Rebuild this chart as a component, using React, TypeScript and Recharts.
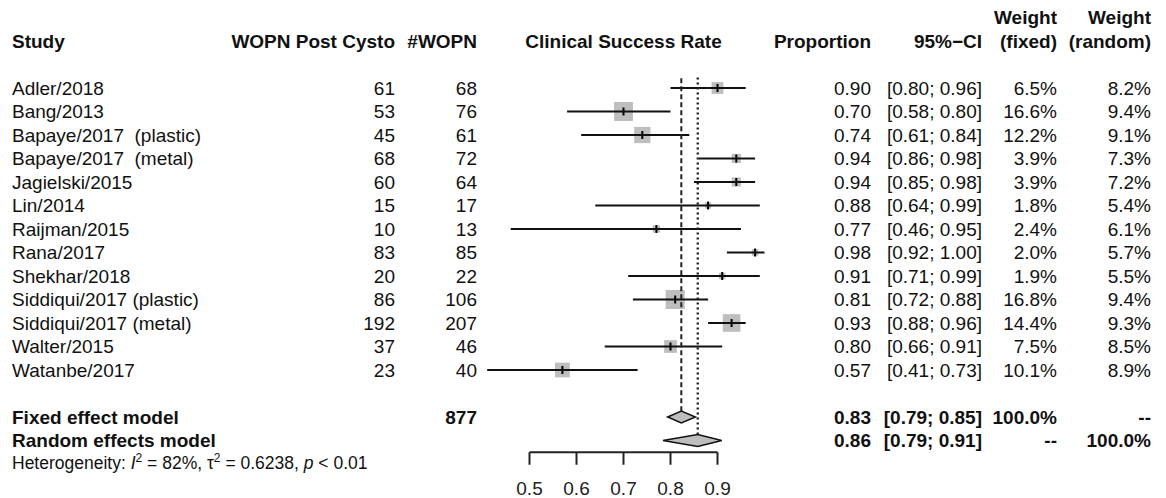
import React from 'react';
import { ScatterChart, Scatter, XAxis, YAxis, ReferenceLine, ReferenceArea } from 'recharts';

// study rows
const studies = [
  'Adler/2018', 'Bang/2013', 'Bapaye/2017  (plastic)', 'Bapaye/2017  (metal)', 'Jagielski/2015',
  'Lin/2014', 'Raijman/2015', 'Rana/2017', 'Shekhar/2018', 'Siddiqui/2017 (plastic)',
  'Siddiqui/2017 (metal)', 'Walter/2015', 'Watanbe/2017',
];
const events = [61, 53, 45, 68, 60, 15, 10, 83, 20, 86, 192, 37, 23];
const totals = [68, 76, 61, 72, 64, 17, 13, 85, 22, 106, 207, 46, 40];
const proportion = [0.90, 0.70, 0.74, 0.94, 0.94, 0.88, 0.77, 0.98, 0.91, 0.81, 0.93, 0.80, 0.57];
const ciLow = [0.80, 0.58, 0.61, 0.86, 0.85, 0.64, 0.46, 0.92, 0.71, 0.72, 0.88, 0.66, 0.41];
const ciHigh = [0.96, 0.80, 0.84, 0.98, 0.98, 0.99, 0.95, 1.00, 0.99, 0.88, 0.96, 0.91, 0.73];
const weightFixed = [6.5, 16.6, 12.2, 3.9, 3.9, 1.8, 2.4, 2.0, 1.9, 16.8, 14.4, 7.5, 10.1];
const weightRandom = [8.2, 9.4, 9.1, 7.3, 7.2, 5.4, 6.1, 5.7, 5.5, 9.4, 9.3, 8.5, 8.9];

// pooled rows
const summaryLabels = ['Fixed effect model', 'Random effects model'];
const summaryEst = [0.823, 0.858];
const summaryLow = [0.794, 0.784];
const summaryHigh = [0.853, 0.909];
const summaryProp = ['0.83', '0.86'];
const summaryCi = ['[0.79; 0.85]', '[0.79; 0.91]'];
const summaryWFixed = ['100.0%', '--'];
const summaryWRandom = ['--', '100.0%'];
const totalPatients = 877;

const xTicks = [0.5, 0.6, 0.7, 0.8, 0.9];

const FONT = "'Liberation Sans', Arial, Helvetica, sans-serif";
const COL = { study: 12, events: 395, total: 477, prop: 871, ci: 982, wFixed: 1057, wRandom: 1151 };
const FIXED_ROW = studies.length + 1;
const RANDOM_ROW = studies.length + 2;

const studyPoints = studies.map((name, i) => ({ x: proportion[i], y: i, w: weightFixed[i] }));

const tableRows = [
  { x: 0.7, y: -3, kind: 'weightTop' },
  { x: 0.7, y: -2, kind: 'header' },
  ...studies.map((name, i) => ({
    x: 0.7, y: i, kind: 'study',
    cells: [name, String(events[i]), String(totals[i]), proportion[i].toFixed(2),
      `[${ciLow[i].toFixed(2)}; ${ciHigh[i].toFixed(2)}]`, `${weightFixed[i].toFixed(1)}%`, `${weightRandom[i].toFixed(1)}%`],
  })),
  ...summaryLabels.map((name, i) => ({
    x: 0.7, y: FIXED_ROW + i, kind: i === 0 ? 'fixed' : 'random',
    cells: [name, i === 0 ? String(totalPatients) : '', summaryProp[i], summaryCi[i], summaryWFixed[i], summaryWRandom[i]],
  })),
];

const TableRow = (props: any) => {
  const { cx, cy, payload } = props;
  const base = cy + 6.6;
  const t = (x: number, s: string, anchor: string, bold = false) => (
    <text x={x} y={base} textAnchor={anchor} fontFamily={FONT} fontSize={19}
      fontWeight={bold ? 'bold' : 'normal'} fill="#111" style={{ whiteSpace: 'pre' }}>{s}</text>
  );
  if (payload.kind === 'weightTop') {
    return <g>{t(COL.wFixed, 'Weight', 'end', true)}{t(COL.wRandom, 'Weight', 'end', true)}</g>;
  }
  if (payload.kind === 'header') {
    return (
      <g>
        {t(COL.study, 'Study', 'start', true)}
        {t(COL.events, 'WOPN Post Cysto', 'end', true)}
        {t(COL.total, '#WOPN', 'end', true)}
        {t(cx, 'Clinical Success Rate', 'middle', true)}
        {t(COL.prop, 'Proportion', 'end', true)}
        {t(COL.ci, '95%\u2212CI', 'end', true)}
        {t(COL.wFixed, '(fixed)', 'end', true)}
        {t(COL.wRandom, '(random)', 'end', true)}
      </g>
    );
  }
  const c = payload.cells;
  if (payload.kind === 'study') {
    return (
      <g>
        {t(COL.study, c[0], 'start')}
        {t(COL.events, c[1], 'end')}
        {t(COL.total, c[2], 'end')}
        {t(COL.prop, c[3], 'end')}
        {t(COL.ci, c[4], 'end')}
        {t(COL.wFixed, c[5], 'end')}
        {t(COL.wRandom, c[6], 'end')}
      </g>
    );
  }
  return (
    <g>
      {t(COL.study, c[0], 'start', true)}
      {t(COL.total, c[1], 'end', true)}
      {t(COL.prop, c[2], 'end', true)}
      {t(COL.ci, c[3], 'end', true)}
      {t(COL.wFixed, c[4], 'end', true)}
      {t(COL.wRandom, c[5], 'end', true)}
      {payload.kind === 'random' && (
        <text x={COL.study} y={base + 21.5} fontFamily={FONT} fontSize={17.5} fill="#111">
          Heterogeneity: <tspan fontStyle="italic">I</tspan>
          <tspan dy={-7} fontSize={12}>2</tspan>
          <tspan dy={7}> = 82%, τ</tspan>
          <tspan dy={-7} fontSize={12}>2</tspan>
          <tspan dy={7}> = 0.6238, </tspan>
          <tspan fontStyle="italic">p</tspan> &lt; 0.01
        </text>
      )}
    </g>
  );
};

const StudyMark = (props: any) => {
  const { cx, cy, payload } = props;
  const s = 4.65 * Math.sqrt(payload.w);
  return (
    <g>
      <rect x={cx - s / 2} y={cy - s / 2} width={s} height={s} fill="#BEBEBE" />
      <line x1={cx} x2={cx} y1={cy - 4} y2={cy + 4} stroke="#000" strokeWidth={2} />
    </g>
  );
};

const diamond = (est: number, low: number, high: number) => (props: any) => {
  const { x, y, width, height } = props;
  const mx = x + (width * (est - low)) / (high - low);
  const my = y + height / 2;
  return (
    <polygon
      points={`${x},${my} ${mx},${y} ${x + width},${my} ${mx},${y + height}`}
      fill="#BEBEBE" stroke="#111" strokeWidth={1.5}
    />
  );
};

export default function App() {
  return (
    <div style={{ position: 'absolute', left: 0, top: 0, background: '#fff' }}>
      <ScatterChart width={1166} height={498} margin={{ top: 5.75, right: 401.5, bottom: 0, left: 482.5 }}>
        <XAxis
          type="number" dataKey="x" domain={[0.4, 1.0]} ticks={xTicks} interval={0}
          axisLine={false} height={45.75} tickSize={12.5} tickMargin={17}
          tickLine={{ stroke: '#222', strokeWidth: 2 }}
          tick={{ fontSize: 19, fill: '#222', fontFamily: FONT }}
          tickFormatter={(v: number) => v.toFixed(1)}
        />
        <YAxis type="number" dataKey="y" domain={[-3.5, 15.5]} reversed hide />
        {summaryLabels.map((name, i) => (
          <ReferenceArea
            key={name} x1={summaryLow[i]} x2={summaryHigh[i]}
            y1={FIXED_ROW + i - 0.25} y2={FIXED_ROW + i + 0.25}
            ifOverflow="visible" shape={diamond(summaryEst[i], summaryLow[i], summaryHigh[i])}
          />
        ))}
        <Scatter data={tableRows} shape={TableRow} isAnimationActive={false} />
        <Scatter data={studyPoints} shape={StudyMark} isAnimationActive={false} />
        {studies.map((name, i) => (
          <ReferenceLine
            key={name} segment={[{ x: ciLow[i], y: i }, { x: ciHigh[i], y: i }]}
            stroke="#111" strokeWidth={1.8} ifOverflow="visible" zIndex={700}
          />
        ))}
        <ReferenceLine
          segment={[{ x: summaryEst[0], y: -0.42 }, { x: summaryEst[0], y: FIXED_ROW - 0.26 }]}
          stroke="#222" strokeWidth={2} strokeDasharray="5 3" ifOverflow="visible" zIndex={700}
        />
        <ReferenceLine
          segment={[{ x: summaryEst[1], y: -0.45 }, { x: summaryEst[1], y: RANDOM_ROW - 0.24 }]}
          stroke="#222" strokeWidth={2.4} strokeDasharray="2 3" ifOverflow="visible" zIndex={700}
        />
        <ReferenceLine
          segment={[{ x: xTicks[0], y: 15.5 }, { x: xTicks[xTicks.length - 1], y: 15.5 }]}
          stroke="#222" strokeWidth={2} ifOverflow="visible"
        />
      </ScatterChart>
    </div>
  );
}
